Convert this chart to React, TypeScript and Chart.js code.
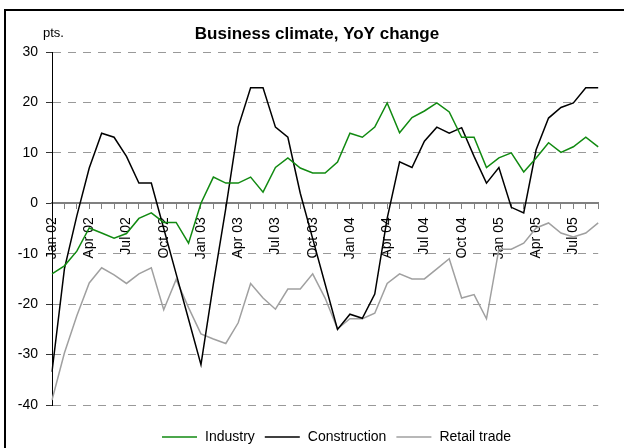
import React, { useEffect, useRef } from 'react';
import { Chart, registerables } from 'chart.js';

Chart.register(...registerables);

const FONT = '"Liberation Sans", Arial, sans-serif';

const months = [
  'Jan 02', 'Feb 02', 'Mar 02', 'Apr 02', 'May 02', 'Jun 02', 'Jul 02', 'Aug 02', 'Sep 02', 'Oct 02', 'Nov 02', 'Dec 02',
  'Jan 03', 'Feb 03', 'Mar 03', 'Apr 03', 'May 03', 'Jun 03', 'Jul 03', 'Aug 03', 'Sep 03', 'Oct 03', 'Nov 03', 'Dec 03',
  'Jan 04', 'Feb 04', 'Mar 04', 'Apr 04', 'May 04', 'Jun 04', 'Jul 04', 'Aug 04', 'Sep 04', 'Oct 04', 'Nov 04', 'Dec 04',
  'Jan 05', 'Feb 05', 'Mar 05', 'Apr 05', 'May 05', 'Jun 05', 'Jul 05', 'Aug 05', 'Sep 05',
];

const labelledMonths = ['Jan', 'Apr', 'Jul', 'Oct'];

const industry = [
  -14.0, -12.4, -9.5, -4.9, -5.9, -6.9, -6.0, -3.0, -1.9, -3.8, -3.8, -7.9,
  0.0, 5.2, 4.0, 4.0, 5.2, 2.2, 7.1, 9.0, 7.0, 6.0, 6.0, 8.2,
  13.9, 13.1, 15.1, 19.9, 14.0, 17.0, 18.3, 19.9, 18.1, 13.1, 13.1, 7.1,
  9.0, 10.0, 6.2, 9.0, 12.0, 10.1, 11.2, 13.1, 11.2,
];

const construction = [
  -33.4, -13.0, -2.5, 7.0, 13.9, 13.1, 9.3, 4.0, 4.0, -5.0, -14.0, -23.0,
  -32.0, -16.0, -1.0, 15.1, 22.9, 22.9, 15.1, 13.1, 2.0, -7.0, -16.0, -25.0,
  -22.0, -22.8, -18.0, -3.0, 8.2, 7.1, 12.3, 15.1, 13.9, 15.0, 9.3, 4.0,
  7.1, -0.8, -1.9, 10.6, 16.9, 19.0, 19.9, 22.9, 22.9,
];

const retail = [
  -39.0, -29.7, -22.3, -15.8, -12.8, -14.2, -15.9, -14.0, -12.8, -21.1, -15.1, -20.7,
  -25.9, -26.9, -27.8, -23.7, -15.9, -18.8, -21.0, -17.0, -17.0, -14.0, -18.8, -24.9,
  -22.9, -22.9, -21.8, -15.9, -14.0, -15.0, -15.0, -13.0, -11.0, -18.8, -18.1, -22.9,
  -9.1, -9.1, -7.9, -4.9, -3.9, -5.9, -6.7, -5.9, -3.9,
];

const seriesNames = ['Industry', 'Construction', 'Retail trade'];
const seriesColors = ['#118a11', '#000000', '#a0a0a0'];

const yMin = -40;
const yMax = 30;
const yStep = 10;

const chartTitle = 'Business climate, YoY change';
const unitLabel = 'pts.';

const decorPlugin = {
  id: 'decor',
  beforeDraw(chart: any) {
    const ctx = chart.ctx;
    ctx.save();
    ctx.fillStyle = '#000';
    ctx.fillRect(4, 9, chart.width - 4, 2);
    ctx.fillRect(4, 9, 2, chart.height - 9);
    ctx.restore();
  },
  afterDraw(chart: any) {
    const ctx = chart.ctx;
    ctx.save();
    ctx.fillStyle = '#000';
    ctx.font = `bold 17px ${FONT}`;
    ctx.textAlign = 'center';
    ctx.textBaseline = 'alphabetic';
    ctx.fillText(chartTitle, 317, 39);

    ctx.font = `13px ${FONT}`;
    ctx.textAlign = 'left';
    ctx.fillText(unitLabel, 43, 37);

    ctx.font = `14px ${FONT}`;
    ctx.textBaseline = 'middle';
    let x = 162;
    const y = 437;
    chart.data.datasets.forEach((ds: any) => {
      ctx.strokeStyle = ds.borderColor;
      ctx.lineWidth = 1.5;
      ctx.beginPath();
      ctx.moveTo(x, y);
      ctx.lineTo(x + 35, y);
      ctx.stroke();
      x += 43;
      ctx.fillStyle = '#000';
      ctx.fillText(ds.label, x, y);
      x += ctx.measureText(ds.label).width + 10;
    });
    ctx.restore();
  },
};

export default function App() {
  const canvasRef = useRef<HTMLCanvasElement | null>(null);

  useEffect(() => {
    if (!canvasRef.current) return;
    Chart.defaults.font.family = FONT;
    const seriesData = [industry, construction, retail];
    const chart = new Chart(canvasRef.current, {
      type: 'line',
      data: {
        labels: months,
        datasets: seriesNames.map((name, i) => ({
          label: name,
          data: seriesData[i],
          borderColor: seriesColors[i],
          backgroundColor: seriesColors[i],
          borderWidth: 1.5,
          pointRadius: 0,
          tension: 0,
          fill: false,
        })),
      },
      options: {
        animation: false,
        responsive: true,
        maintainAspectRatio: false,
        layout: { padding: { left: 0, top: 52, right: 18, bottom: 43 } },
        plugins: {
          legend: { display: false },
          title: { display: false },
          tooltip: { enabled: false },
        },
        scales: {
          x: {
            type: 'category',
            position: { y: 0 } as any,
            offset: false,
            grid: {
              display: true,
              drawOnChartArea: false,
              drawTicks: true,
              tickLength: 5,
              tickColor: '#808080',
              tickWidth: 1,
            },
            border: { display: true, color: '#808080', width: 2 },
            ticks: {
              autoSkip: false,
              minRotation: 90,
              maxRotation: 90,
              padding: 9,
              color: '#000',
              font: { size: 14, family: FONT },
              callback: (_v: any, i: number) =>
                labelledMonths.includes(months[i].slice(0, 3)) ? months[i] : '',
            },
          },
          y: {
            type: 'linear',
            min: yMin,
            max: yMax,
            afterFit: (scale: any) => {
              scale.width = 52;
            },
            grid: {
              color: '#999999',
              lineWidth: 1,
              drawTicks: true,
              tickLength: 6,
              tickColor: '#333333',
              tickWidth: 1,
            },
            border: { display: true, color: '#000000', width: 1, dash: [8, 7] },
            ticks: {
              stepSize: yStep,
              padding: 8,
              color: '#000',
              font: { size: 14, family: FONT },
            },
          },
        },
      },
      plugins: [decorPlugin],
    });
    return () => chart.destroy();
  }, []);

  return (
    <div style={{ position: 'fixed', left: 0, top: 0, width: 624, height: 448, background: '#fff' }}>
      <canvas ref={canvasRef} />
    </div>
  );
}
